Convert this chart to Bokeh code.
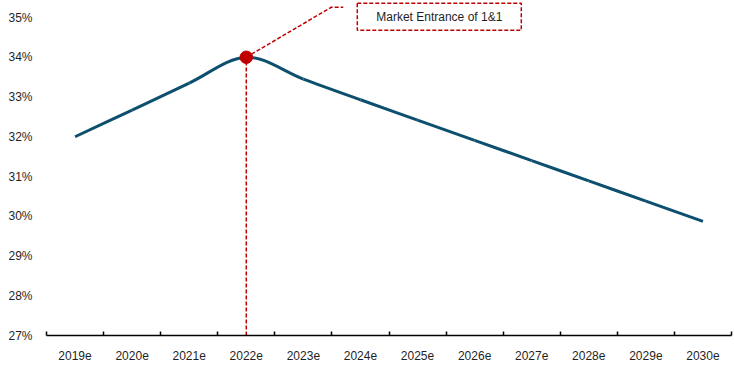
import numpy as np
from bokeh.plotting import figure
from bokeh.models import FixedTicker, PrintfTickFormatter, Range1d, Label
from bokeh.embed import file_html
from bokeh.resources import INLINE

# Market share by year (%)
years = ["2019e", "2020e", "2021e", "2022e", "2023e", "2024e",
         "2025e", "2026e", "2027e", "2028e", "2029e", "2030e"]
share = [32.0, 32.67, 33.35, 34.0, 33.45, 32.93,
         32.42, 31.91, 31.40, 30.89, 30.38, 29.87]
y_ticks = [27, 28, 29, 30, 31, 32, 33, 34, 35]
event_year = "2022e"
event_label = "Market Entrance of 1&1"

FONT = "Liberation Sans"
TEXT = "#1f1f1f"
LINE = "#0D4F6E"
RED = "#C00000"
DASH = "4 2"

W, H = 734, 367
LEFT, RIGHT, TOP, BOTTOM = 46, 3, 0, 32
frame_w = W - LEFT - RIGHT
frame_h = H - TOP - BOTTOM

n = len(years)
xs = np.arange(n, dtype=float)
ys = np.array(share, dtype=float)

x_start, x_end = -0.5, n - 0.5
y_start = y_ticks[0]
y_px = (y_ticks[-1] - y_ticks[0]) / 318.0  # value units per pixel
y_end = y_start + frame_h * y_px
x_px = (x_end - x_start) / frame_w

p = figure(width=W, height=H, output_backend="svg", toolbar_location=None,
           x_range=Range1d(x_start, x_end), y_range=Range1d(y_start, y_end),
           min_border_left=LEFT, min_border_right=RIGHT,
           min_border_top=TOP, min_border_bottom=BOTTOM)
p.outline_line_color = None
p.grid.grid_line_color = None
p.background_fill_color = "white"
p.border_fill_color = "white"

# x axis: labels at category centres, small inward ticks at the boundaries
xa = p.xaxis[0]
xa.ticker = FixedTicker(ticks=list(xs), minor_ticks=list(np.arange(n + 1) - 0.5))
xa.major_label_overrides = {float(i): y for i, y in enumerate(years)}
xa.major_label_overrides.update({i: y for i, y in enumerate(years)})
xa.major_tick_line_color = None
xa.minor_tick_in = 4
xa.minor_tick_out = 0
xa.minor_tick_line_color = "black"
xa.minor_tick_line_width = 1.5
xa.axis_line_color = "black"
xa.axis_line_width = 1.5
xa.major_label_standoff = 9
xa.major_label_text_font = FONT
xa.major_label_text_font_size = "12px"
xa.major_label_text_color = TEXT

ya = p.yaxis[0]
ya.ticker = FixedTicker(ticks=y_ticks)
ya.formatter = PrintfTickFormatter(format="%d%%")
ya.axis_line_color = None
ya.major_tick_line_color = None
ya.minor_tick_line_color = None
ya.major_tick_out = 0
ya.major_label_standoff = 14
ya.major_label_text_font = FONT
ya.major_label_text_font_size = "12px"
ya.major_label_text_color = TEXT

# smoothed line through the yearly values (Catmull-Rom style Bezier segments)
pad_x = np.concatenate([[xs[0]], xs, [xs[-1]]])
pad_y = np.concatenate([[ys[0]], ys, [ys[-1]]])
cx0 = xs[:-1] + (pad_x[2:-1] - pad_x[:-3]) / 6.0
cy0 = ys[:-1] + (pad_y[2:-1] - pad_y[:-3]) / 6.0
cx1 = xs[1:] - (pad_x[3:] - pad_x[1:-2]) / 6.0
cy1 = ys[1:] - (pad_y[3:] - pad_y[1:-2]) / 6.0
p.bezier(x0=xs[:-1], y0=ys[:-1], x1=xs[1:], y1=ys[1:],
         cx0=cx0, cy0=cy0, cx1=cx1, cy1=cy1,
         line_color=LINE, line_width=3)

# event marker and callout
k = years.index(event_year)
ex, ey = xs[k], ys[k]

def px(dx, dy):
    return ex + dx * x_px, ey - dy * y_px

p.segment(x0=[ex], y0=[y_start], x1=[ex], y1=[ey],
          line_color=RED, line_width=1.5, line_dash=DASH)
kx, ky = px(85, -50)
hx, hy = px(97, -50)
p.line(x=[ex, kx, hx], y=[ey, ky, hy], line_color=RED, line_width=1.5, line_dash=DASH)

bl, bt = px(111, -54)
br, bb = px(275, -27)
p.quad(left=[bl], right=[br], top=[bt], bottom=[bb], fill_color="white",
       line_color=RED, line_width=1.5, line_dash=DASH)
p.add_layout(Label(x=(bl + br) / 2, y=(bt + bb) / 2, text=event_label,
                   text_align="center", text_baseline="middle",
                   text_font=FONT, text_font_size="12px", text_color=TEXT))

p.scatter(x=[ex], y=[ey], size=12.5, fill_color=RED, line_color=RED)

open("out.html", "w").write(file_html(p, INLINE))
